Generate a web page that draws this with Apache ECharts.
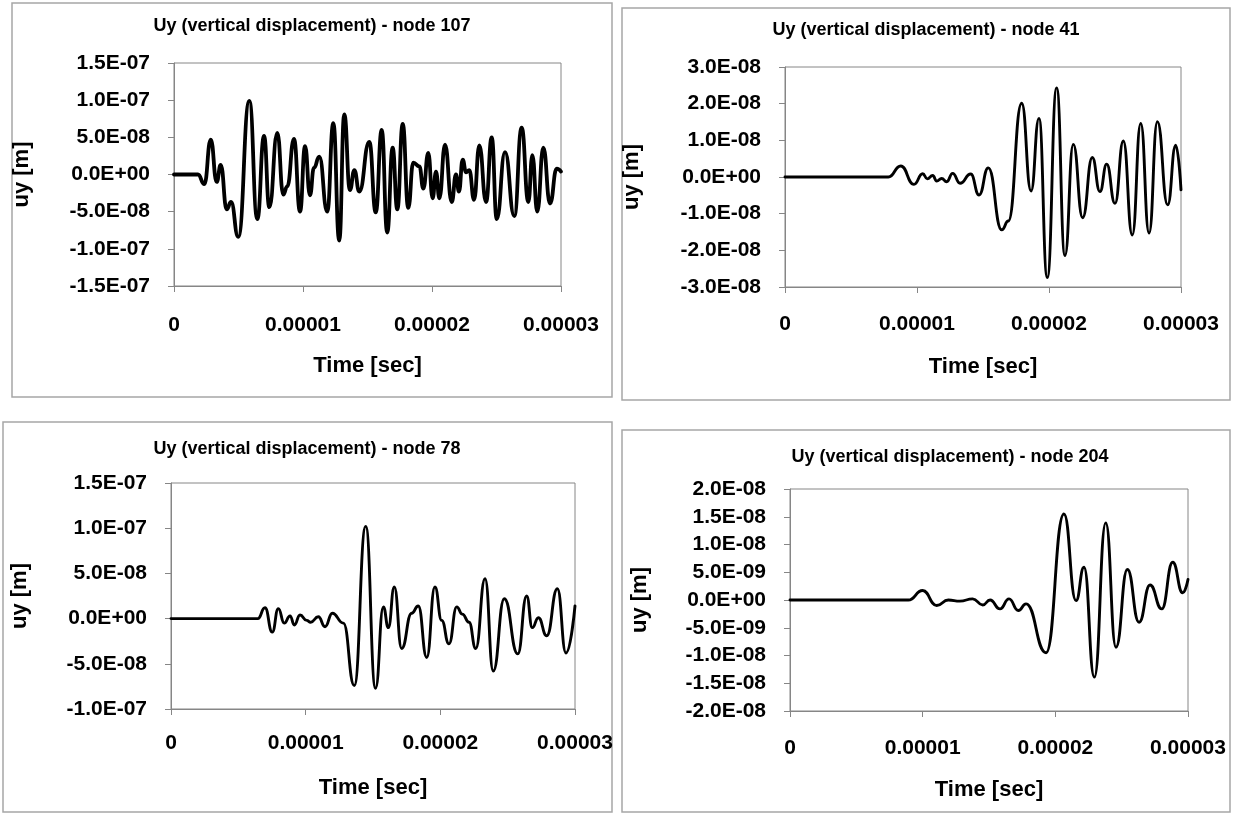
<!DOCTYPE html>
<html>
<head>
<meta charset="utf-8">
<script src="https://cdn.jsdelivr.net/npm/echarts@6.0.0/dist/echarts.min.js"></script>
<style>
html,body{margin:0;padding:0;background:#ffffff;}
#c{width:1237px;height:818px;}
</style>
</head>
<body>
<div id="c"></div>
<script>
// ---------------- DATA ----------------
const titles = [
  'Uy (vertical displacement) - node 107',
  'Uy (vertical displacement) - node 41',
  'Uy (vertical displacement) - node 78',
  'Uy (vertical displacement) - node 204'
];
const xAxisName = 'Time [sec]';
const yAxisName = 'uy [m]';

const xTicks = [0, 1e-5, 2e-5, 3e-5];
const xTickLabels = ['0', '0.00001', '0.00002', '0.00003'];

const yLabels107 = ['-1.5E-07', '-1.0E-07', '-5.0E-08', '0.0E+00', '5.0E-08', '1.0E-07', '1.5E-07'];
const yLabels41  = ['-3.0E-08', '-2.0E-08', '-1.0E-08', '0.0E+00', '1.0E-08', '2.0E-08', '3.0E-08'];
const yLabels78  = ['-1.0E-07', '-5.0E-08', '0.0E+00', '5.0E-08', '1.0E-07', '1.5E-07'];
const yLabels204 = ['-2.0E-08', '-1.5E-08', '-1.0E-08', '-5.0E-09', '0.0E+00', '5.0E-09', '1.0E-08', '1.5E-08', '2.0E-08'];

// node 107
const t107 = [0, 1.86e-6, 2.35e-6, 2.85e-6, 3.31e-6, 3.62e-6, 4.09e-6, 4.42e-6, 4.98e-6, 5.84e-6,
  6.46e-6, 6.98e-6, 7.39e-6, 8.01e-6, 8.47e-6, 8.78e-6, 9.30e-6, 9.77e-6, 10.16e-6, 10.54e-6,
  10.85e-6, 11.26e-6, 11.88e-6, 12.35e-6, 12.81e-6, 13.20e-6, 13.64e-6, 13.98e-6, 14.36e-6, 15.14e-6,
  15.64e-6, 16.10e-6, 16.53e-6, 16.95e-6, 17.31e-6, 17.73e-6, 18.16e-6, 18.55e-6, 19.02e-6, 19.33e-6,
  19.71e-6, 20.05e-6, 20.31e-6, 20.57e-6, 21.01e-6, 21.53e-6, 21.86e-6, 22.09e-6, 22.38e-6, 22.64e-6,
  22.89e-6, 23.26e-6, 23.67e-6, 24.19e-6, 24.63e-6, 25.02e-6, 25.66e-6, 26.38e-6, 26.95e-6, 27.47e-6,
  27.78e-6, 28.16e-6, 28.63e-6, 29.15e-6, 29.67e-6, 30.0e-6];
const u107 = [0, 0, -1.3e-8, 4.7e-8, -1.0e-8, 1.3e-8, -4.7e-8, -3.7e-8, -8.4e-8, 9.9e-8,
  -6.0e-8, 5.2e-8, -4.4e-8, 5.6e-8, -2.7e-8, -1.6e-8, 4.8e-8, -5.0e-8, 3.8e-8, -2.8e-8,
  0.9e-8, 2.4e-8, -5.0e-8, 6.9e-8, -8.9e-8, 8.1e-8, -2.1e-8, 0.6e-8, -2.3e-8, 4.4e-8,
  -5.1e-8, 6.0e-8, -7.8e-8, 3.6e-8, -4.7e-8, 6.8e-8, -4.5e-8, 1.6e-8, 1.1e-8, -1.9e-8,
  2.9e-8, -3.2e-8, 0.4e-8, -3.2e-8, 4.0e-8, -3.7e-8, 0, -2.3e-8, 2.0e-8, 0.3e-8,
  0.6e-8, -3.4e-8, 3.9e-8, -3.7e-8, 5.0e-8, -6.0e-8, 3.0e-8, -5.6e-8, 6.3e-8, -3.7e-8,
  2.6e-8, -5.0e-8, 3.6e-8, -3.9e-8, 0.8e-8, 0.4e-8];

// node 41
const t41 = [0, 7.83e-6, 8.77e-6, 9.77e-6, 10.43e-6, 10.78e-6, 11.19e-6, 11.49e-6, 11.87e-6, 12.25e-6,
  12.70e-6, 13.26e-6, 14.07e-6, 14.70e-6, 15.40e-6, 16.42e-6, 16.92e-6, 17.93e-6, 18.64e-6, 19.24e-6,
  19.87e-6, 20.58e-6, 21.21e-6, 21.84e-6, 22.55e-6, 23.28e-6, 23.86e-6, 24.37e-6, 25.00e-6, 25.63e-6,
  26.31e-6, 26.95e-6, 27.58e-6, 28.21e-6, 28.99e-6, 29.60e-6, 30.0e-6];
const u41 = [0, 0, 0.30e-8, -0.20e-8, 0.09e-8, -0.05e-8, 0.04e-8, -0.11e-8, -0.04e-8, -0.13e-8,
  0.10e-8, -0.17e-8, 0.08e-8, -0.49e-8, 0.25e-8, -1.44e-8, -1.2e-8, 2.01e-8, -0.38e-8, 1.60e-8,
  -2.74e-8, 2.43e-8, -2.14e-8, 0.89e-8, -1.11e-8, 0.53e-8, -0.40e-8, 0.35e-8, -0.72e-8, 0.98e-8,
  -1.58e-8, 1.46e-8, -1.53e-8, 1.51e-8, -0.76e-8, 0.87e-8, -0.35e-8];

// node 78
const t78 = [0, 6.44e-6, 6.98e-6, 7.52e-6, 7.97e-6, 8.41e-6, 8.84e-6, 9.16e-6, 9.58e-6, 10.08e-6,
  10.37e-6, 10.94e-6, 11.44e-6, 11.98e-6, 12.80e-6, 13.61e-6, 14.46e-6, 15.19e-6, 15.77e-6, 16.14e-6,
  16.58e-6, 17.13e-6, 17.87e-6, 18.36e-6, 18.99e-6, 19.60e-6, 20.10e-6, 20.64e-6, 21.22e-6, 21.63e-6,
  22.13e-6, 22.63e-6, 23.32e-6, 23.93e-6, 24.75e-6, 25.75e-6, 26.41e-6, 26.83e-6, 27.28e-6, 27.90e-6,
  28.69e-6, 29.33e-6, 30.0e-6];
const u78 = [0, 0, 1.2e-8, -1.5e-8, 1.1e-8, -0.5e-8, 0.3e-8, -0.7e-8, 0.4e-8, -0.2e-8,
  -0.4e-8, 0.2e-8, -0.9e-8, 0.6e-8, -0.5e-8, -7.4e-8, 10.2e-8, -7.7e-8, 1.3e-8, -1.0e-8,
  3.5e-8, -3.3e-8, 0.6e-8, 1.4e-8, -4.3e-8, 3.5e-8, -0.2e-8, -2.8e-8, 1.3e-8, 0.5e-8,
  -0.4e-8, -3.3e-8, 4.4e-8, -5.8e-8, 2.2e-8, -3.9e-8, 2.5e-8, -1.0e-8, 0.1e-8, -1.9e-8,
  3.3e-8, -3.8e-8, 1.4e-8];

// node 204
const t204 = [0, 8.92e-6, 10.00e-6, 11.06e-6, 11.93e-6, 12.81e-6, 13.77e-6, 14.53e-6, 15.08e-6, 15.83e-6,
  16.51e-6, 17.21e-6, 17.79e-6, 19.30e-6, 20.65e-6, 21.56e-6, 22.16e-6, 22.94e-6, 23.80e-6, 24.57e-6,
  25.43e-6, 26.31e-6, 27.14e-6, 28.02e-6, 28.85e-6, 29.60e-6, 30.0e-6];
const u204 = [0, 0, 1.7e-9, -1.0e-9, 0, -0.2e-9, 0.2e-9, -0.9e-9, 0, -1.6e-9,
  0.2e-9, -1.9e-9, -0.7e-9, -9.5e-9, 15.5e-9, -0.1e-9, 5.9e-9, -13.9e-9, 13.9e-9, -8.5e-9,
  5.5e-9, -4.0e-9, 2.7e-9, -1.6e-9, 6.8e-9, 1.3e-9, 3.7e-9];

// ---------------- LAYOUT ----------------
const FONT = "'Liberation Sans', Arial, sans-serif";
const panels = [
  { title: titles[0], box: [12, 3, 600, 394], tx: 312, ty: 26,
    grid: { left: 174, top: 63, width: 387, height: 223 },
    yMin: -1.5e-7, yMax: 1.5e-7, yInt: 5e-8, yLabels: yLabels107, t: t107, u: u107,
    lw: 3.8, xMargin: 29, xGap: 69, yGap: 141 },
  { title: titles[1], box: [622, 8, 608, 392], tx: 926, ty: 30,
    grid: { left: 785, top: 67, width: 396, height: 220 },
    yMin: -3e-8, yMax: 3e-8, yInt: 1e-8, yLabels: yLabels41, t: t41, u: u41,
    lw: 2.9, xMargin: 27, xGap: 69, yGap: 142 },
  { title: titles[2], box: [3, 422, 609, 390], tx: 307, ty: 449,
    grid: { left: 171, top: 483, width: 404, height: 226 },
    yMin: -1e-7, yMax: 1.5e-7, yInt: 5e-8, yLabels: yLabels78, t: t78, u: u78,
    lw: 2.9, xMargin: 24, xGap: 68, yGap: 140 },
  { title: titles[3], box: [622, 430, 608, 382], tx: 950, ty: 457,
    grid: { left: 790, top: 489, width: 398, height: 222 },
    yMin: -2e-8, yMax: 2e-8, yInt: 5e-9, yLabels: yLabels204, t: t204, u: u204,
    lw: 2.9, xMargin: 27, xGap: 68, yGap: 139 }
];

const axisColor = '#868686';
const grids = [], xAxes = [], yAxes = [], series = [], graphics = [];

panels.forEach((p, i) => {
  graphics.push({
    type: 'rect', silent: true,
    shape: { x: p.box[0], y: p.box[1], width: p.box[2], height: p.box[3] },
    style: { fill: 'none', stroke: '#a6a6a6', lineWidth: 1.5 }
  });
  graphics.push({
    type: 'text', silent: true, x: p.tx, y: p.ty,
    style: { text: p.title, fill: '#000', font: 'bold 18px ' + FONT,
             textAlign: 'center', textVerticalAlign: 'middle' }
  });
  grids.push(Object.assign({ show: true, borderColor: axisColor, borderWidth: 1,
    backgroundColor: 'transparent', containLabel: false }, p.grid));
  xAxes.push({
    type: 'value', gridIndex: i, min: xTicks[0], max: xTicks[xTicks.length - 1],
    interval: xTicks[1] - xTicks[0],
    name: xAxisName, nameLocation: 'middle', nameGap: p.xGap,
    nameTextStyle: { fontFamily: FONT, fontWeight: 'bold', fontSize: 22, color: '#000' },
    axisLine: { show: true, onZero: false, lineStyle: { color: axisColor, width: 1 } },
    axisTick: { show: true, inside: false, length: 6, lineStyle: { color: axisColor } },
    splitLine: { show: false },
    axisLabel: {
      margin: p.xMargin, color: '#000', fontFamily: FONT, fontWeight: 'bold', fontSize: 21,
      showMinLabel: true, showMaxLabel: true,
      formatter: function (v) {
        let best = 0;
        xTicks.forEach((tv, k) => { if (Math.abs(tv - v) < Math.abs(xTicks[best] - v)) best = k; });
        return xTickLabels[best];
      }
    }
  });
  yAxes.push({
    type: 'value', gridIndex: i, min: p.yMin, max: p.yMax, interval: p.yInt,
    name: yAxisName, nameLocation: 'middle', nameGap: p.yGap, nameRotate: 90,
    nameTextStyle: { fontFamily: FONT, fontWeight: 'bold', fontSize: 22, color: '#000' },
    axisLine: { show: true, lineStyle: { color: axisColor, width: 1 } },
    axisTick: { show: true, inside: false, length: 6, lineStyle: { color: axisColor } },
    splitLine: { show: false },
    axisLabel: {
      margin: 24, color: '#000', fontFamily: FONT, fontWeight: 'bold', fontSize: 21,
      showMinLabel: true, showMaxLabel: true,
      formatter: (function (pp) {
        return function (v) {
          const k = Math.round((v - pp.yMin) / pp.yInt);
          return pp.yLabels[k] !== undefined ? pp.yLabels[k] : '';
        };
      })(p)
    }
  });
  series.push({
    type: 'line', xAxisIndex: i, yAxisIndex: i,
    data: p.t.map((tv, k) => [tv, p.u[k]]),
    showSymbol: false, symbol: 'none',
    smooth: 0.5, smoothMonotone: 'x',
    lineStyle: { color: '#000', width: p.lw, cap: 'round', join: 'round' },
    clip: true, silent: true
  });
});

const chart = echarts.init(document.getElementById('c'), null, { renderer: 'canvas' });
chart.setOption({
  animation: false,
  backgroundColor: '#ffffff',
  grid: grids, xAxis: xAxes, yAxis: yAxes, series: series,
  graphic: { elements: graphics }
});
</script>
</body>
</html>
